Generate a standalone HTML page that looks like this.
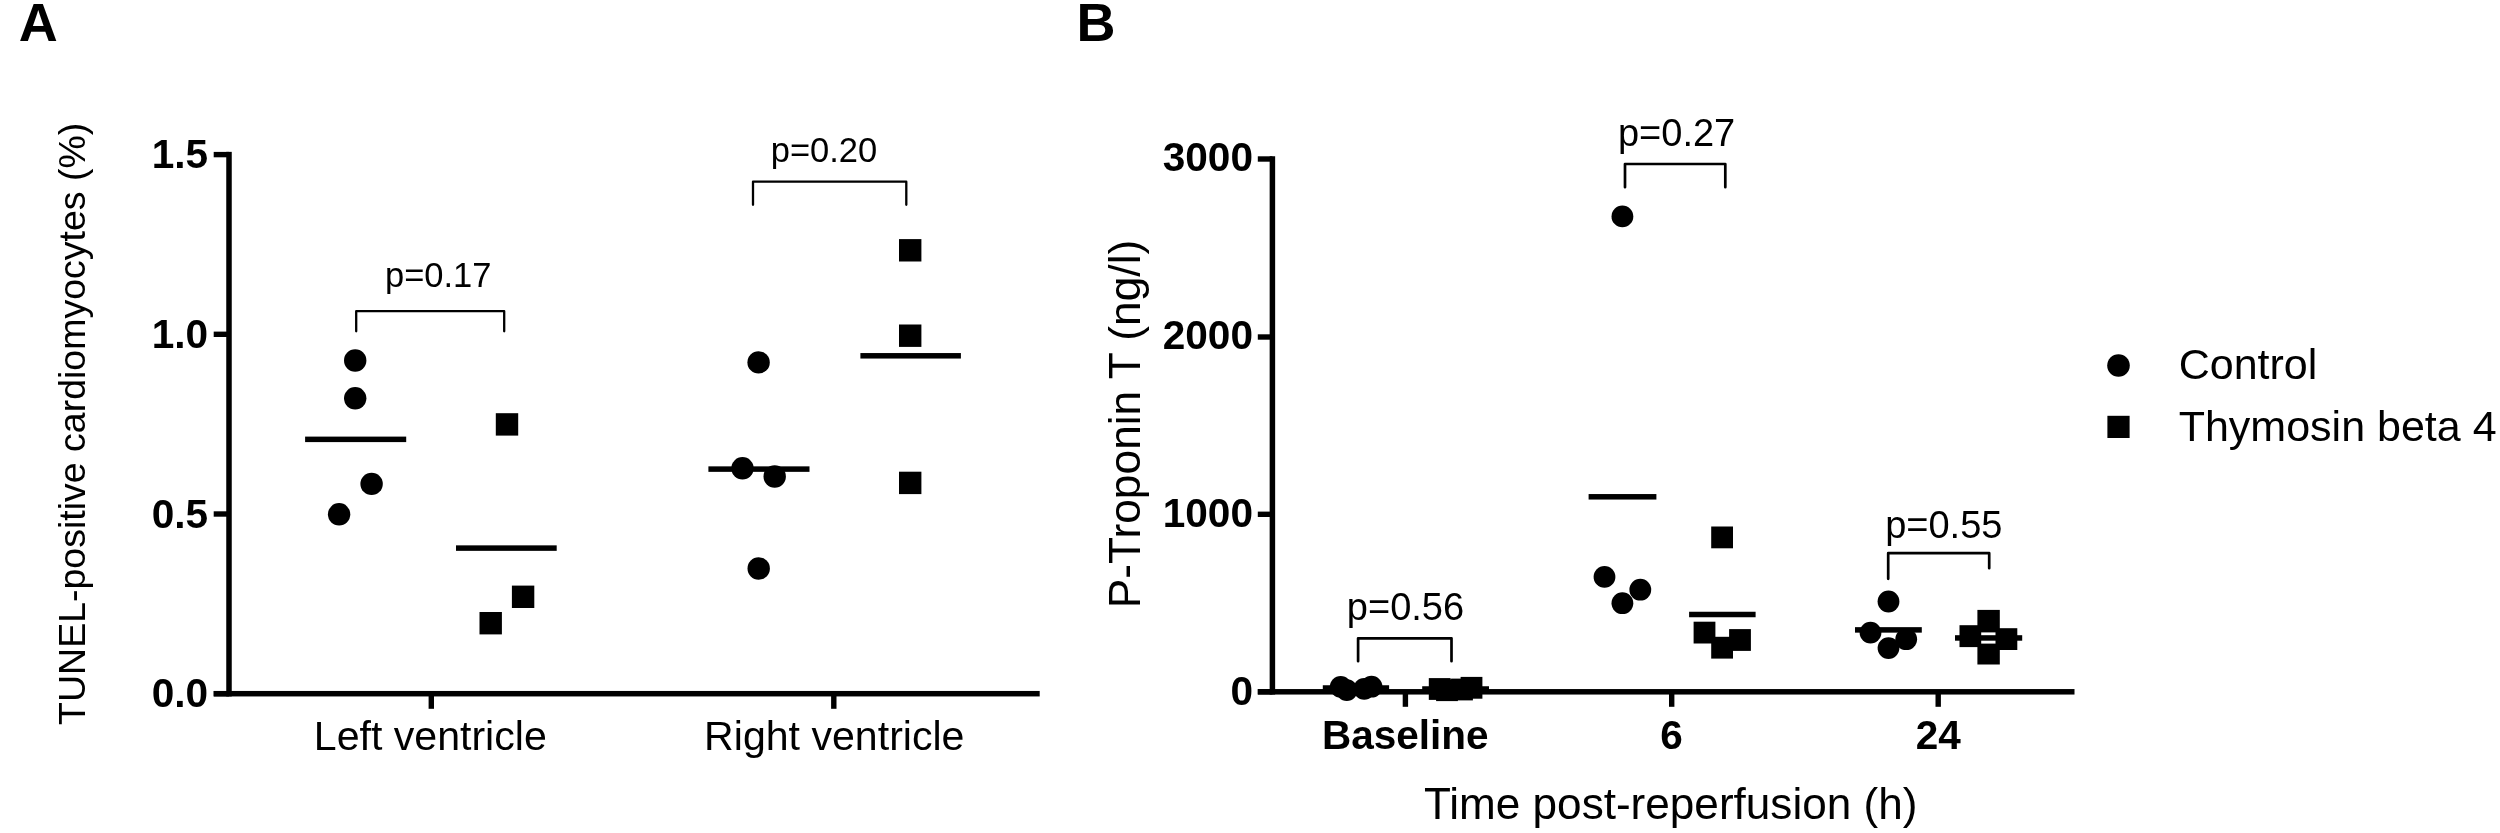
<!DOCTYPE html>
<html lang="en">
<head>
<meta charset="utf-8">
<title>Figure: TUNEL-positive cardiomyocytes and P-Troponin T</title>
<style>
html,body{margin:0;padding:0;background:#ffffff;}
body{width:2500px;height:833px;overflow:hidden;}
svg{display:block;filter:blur(0.5px);}
svg text{font-family:"Liberation Sans",Arial,Helvetica,sans-serif;fill:#000;}
svg rect,svg circle{fill:#000;}
</style>
</head>
<body>
<svg width="2500" height="833" viewBox="0 0 2500 833">
<rect x="0" y="0" width="2500" height="833" style="fill:#ffffff"/>
<g id="panelA">
<text x="18.80" y="40.50" font-size="54" font-weight="bold" text-anchor="start">A</text>
<rect x="226.25" y="151.85" width="5.50" height="544.60"/>
<rect x="213.70" y="151.90" width="15.30" height="5.40"/>
<text x="208.20" y="168.10" font-size="40.6" font-weight="bold" text-anchor="end">1.5</text>
<rect x="213.70" y="331.60" width="15.30" height="5.40"/>
<text x="208.20" y="347.80" font-size="40.6" font-weight="bold" text-anchor="end">1.0</text>
<rect x="213.70" y="511.30" width="15.30" height="5.40"/>
<text x="208.20" y="527.50" font-size="40.6" font-weight="bold" text-anchor="end">0.5</text>
<rect x="213.70" y="691.00" width="15.30" height="5.40"/>
<text x="208.20" y="707.20" font-size="40.6" font-weight="bold" text-anchor="end">0.0</text>
<rect x="213.70" y="690.95" width="826.00" height="5.50"/>
<rect x="428.60" y="693.70" width="5.40" height="15.10"/>
<rect x="831.10" y="693.70" width="5.40" height="15.10"/>
<text x="430.30" y="749.70" font-size="41.1" text-anchor="middle">Left ventricle</text>
<text x="834.30" y="749.70" font-size="41.1" text-anchor="middle">Right ventricle</text>
<text transform="translate(84.60,423.80) rotate(-90)" font-size="37.5" text-anchor="middle">TUNEL-positive cardiomyocytes (%)</text>
<text x="438.20" y="286.80" font-size="34.5" text-anchor="middle">p=0.17</text>
<text x="824.00" y="162.40" font-size="34.5" text-anchor="middle">p=0.20</text>
<path d="M356.20,331.25 V311.20 H504.20 V331.25" fill="none" stroke="#000" stroke-width="2.3" stroke-linejoin="round" stroke-linecap="round"/>
<path d="M753.00,204.75 V181.70 H906.30 V204.75" fill="none" stroke="#000" stroke-width="2.3" stroke-linejoin="round" stroke-linecap="round"/>
<rect x="305.10" y="436.60" width="101.10" height="5.50"/>
<rect x="456.00" y="545.35" width="100.70" height="5.50"/>
<rect x="708.40" y="466.35" width="101.10" height="5.50"/>
<rect x="860.40" y="353.05" width="100.50" height="5.50"/>
<circle cx="355.20" cy="360.50" r="11.20"/>
<circle cx="355.20" cy="398.30" r="11.20"/>
<circle cx="371.60" cy="483.90" r="11.20"/>
<circle cx="339.10" cy="514.30" r="11.20"/>
<circle cx="758.60" cy="362.40" r="11.20"/>
<circle cx="742.50" cy="468.30" r="11.20"/>
<circle cx="774.70" cy="476.50" r="11.20"/>
<circle cx="758.70" cy="568.50" r="11.20"/>
<rect x="495.80" y="413.20" width="22.40" height="22.40"/>
<rect x="511.90" y="585.60" width="22.40" height="22.40"/>
<rect x="479.50" y="612.00" width="22.40" height="22.40"/>
<rect x="899.00" y="239.10" width="22.40" height="22.40"/>
<rect x="899.00" y="324.50" width="22.40" height="22.40"/>
<rect x="899.00" y="471.70" width="22.40" height="22.40"/>
</g>
<g id="panelB">
<text x="1076.60" y="40.50" font-size="54" font-weight="bold" text-anchor="start">B</text>
<rect x="1269.65" y="156.25" width="5.50" height="538.30"/>
<rect x="1257.80" y="156.30" width="14.60" height="5.40"/>
<text x="1253.00" y="171.20" font-size="40.6" font-weight="bold" text-anchor="end">3000</text>
<rect x="1257.80" y="334.30" width="14.60" height="5.40"/>
<text x="1253.00" y="349.30" font-size="40.6" font-weight="bold" text-anchor="end">2000</text>
<rect x="1257.80" y="511.60" width="14.60" height="5.40"/>
<text x="1253.00" y="527.20" font-size="40.6" font-weight="bold" text-anchor="end">1000</text>
<rect x="1257.80" y="689.10" width="14.60" height="5.40"/>
<text x="1253.00" y="705.00" font-size="40.6" font-weight="bold" text-anchor="end">0</text>
<rect x="1257.80" y="689.05" width="816.70" height="5.50"/>
<rect x="1402.70" y="691.80" width="5.40" height="15.00"/>
<rect x="1669.00" y="691.80" width="5.40" height="15.00"/>
<rect x="1935.50" y="691.80" width="5.40" height="15.00"/>
<text x="1405.30" y="749.00" font-size="40.5" font-weight="bold" text-anchor="middle">Baseline</text>
<text x="1671.50" y="749.00" font-size="40.5" font-weight="bold" text-anchor="middle">6</text>
<text x="1938.20" y="749.00" font-size="40.5" font-weight="bold" text-anchor="middle">24</text>
<text x="1670.70" y="818.80" font-size="44.1" text-anchor="middle">Time post-reperfusion (h)</text>
<text transform="translate(1139.80,424.00) rotate(-90)" font-size="44.3" text-anchor="middle">P-Troponin T (ng/l)</text>
<text x="1676.60" y="145.60" font-size="38" text-anchor="middle">p=0.27</text>
<text x="1943.80" y="537.80" font-size="38" text-anchor="middle">p=0.55</text>
<text x="1405.50" y="619.80" font-size="38" text-anchor="middle">p=0.56</text>
<path d="M1625.00,187.25 V164.00 H1725.30 V187.25" fill="none" stroke="#000" stroke-width="2.7" stroke-linejoin="round" stroke-linecap="round"/>
<path d="M1888.20,578.85 V553.20 H1989.20 V568.25" fill="none" stroke="#000" stroke-width="2.7" stroke-linejoin="round" stroke-linecap="round"/>
<path d="M1358.10,661.25 V638.30 H1451.50 V661.25" fill="none" stroke="#000" stroke-width="2.7" stroke-linejoin="round" stroke-linecap="round"/>
<rect x="1322.80" y="685.25" width="66.30" height="5.50"/>
<rect x="1422.20" y="686.25" width="66.80" height="5.50"/>
<rect x="1588.60" y="494.05" width="67.80" height="5.50"/>
<rect x="1689.10" y="611.75" width="66.50" height="5.50"/>
<rect x="1855.00" y="627.15" width="66.80" height="5.50"/>
<rect x="1955.00" y="635.20" width="67.20" height="5.50"/>
<circle cx="1622.40" cy="216.40" r="10.90"/>
<circle cx="1604.50" cy="576.90" r="10.90"/>
<circle cx="1640.30" cy="589.70" r="10.90"/>
<circle cx="1622.40" cy="603.20" r="10.90"/>
<circle cx="1340.70" cy="686.90" r="10.90"/>
<circle cx="1346.80" cy="690.10" r="10.90"/>
<circle cx="1371.50" cy="686.70" r="10.90"/>
<circle cx="1364.20" cy="688.90" r="10.90"/>
<circle cx="1888.50" cy="601.50" r="10.90"/>
<circle cx="1870.50" cy="632.60" r="10.90"/>
<circle cx="1906.20" cy="639.20" r="10.90"/>
<circle cx="1888.50" cy="648.10" r="10.90"/>
<rect x="1711.20" y="526.50" width="21.80" height="21.80"/>
<rect x="1693.60" y="621.70" width="21.80" height="21.80"/>
<rect x="1729.10" y="629.10" width="21.80" height="21.80"/>
<rect x="1711.20" y="636.80" width="21.80" height="21.80"/>
<rect x="1428.80" y="678.10" width="21.80" height="21.80"/>
<rect x="1436.10" y="679.30" width="21.80" height="21.80"/>
<rect x="1460.60" y="676.90" width="21.80" height="21.80"/>
<rect x="1451.10" y="678.60" width="21.80" height="21.80"/>
<rect x="1977.40" y="609.90" width="22.40" height="22.50"/>
<rect x="1977.40" y="643.60" width="22.40" height="20.90"/>
<rect x="1959.50" y="625.20" width="21.70" height="21.90"/>
<rect x="1995.50" y="628.20" width="21.80" height="21.80"/>
</g>
<g id="legend">
<circle cx="2118.50" cy="365.50" r="11.30"/>
<rect x="2107.40" y="415.80" width="22.20" height="22.20"/>
<text x="2178.70" y="379.10" font-size="43" text-anchor="start">Control</text>
<text x="2178.70" y="440.70" font-size="43" text-anchor="start">Thymosin beta 4</text>
</g>
</svg>
</body>
</html>
